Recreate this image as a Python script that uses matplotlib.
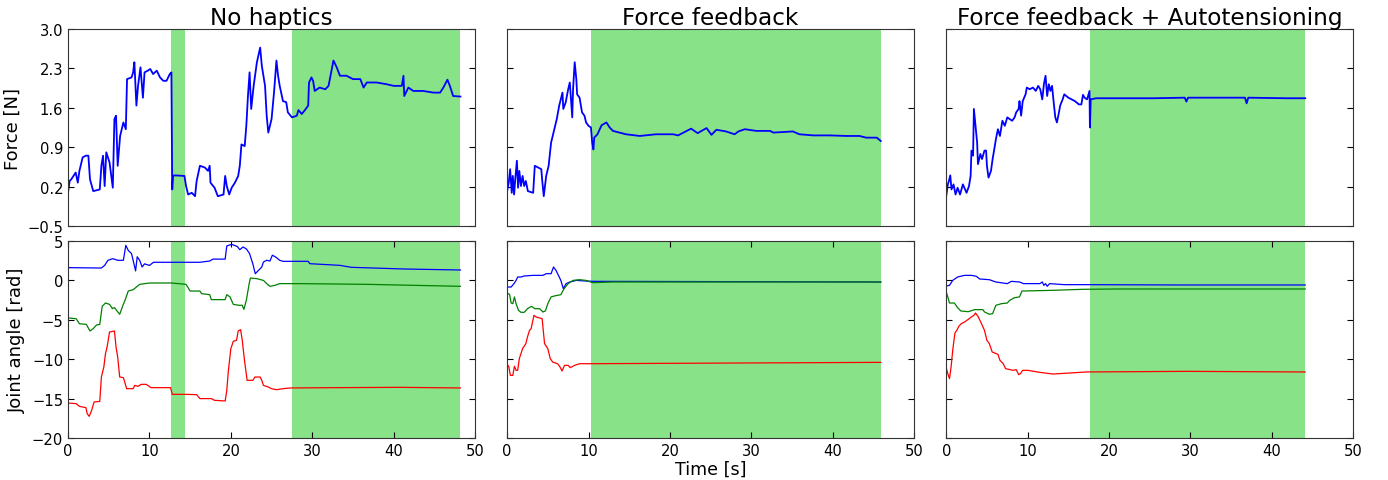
import matplotlib.pyplot as plt
import numpy as np

titles = ["No haptics", "Force feedback", "Force feedback + Autotensioning"]

# green shaded intervals [s] per condition
spans = [
    [(12.6, 14.4), (27.5, 48.2)],
    [(10.3, 45.9)],
    [(17.6, 44.1)],
]

# ---- force traces (t [s], F [N]) ----
force_nh = [
    (0, 0.09), (0.2, 0.30), (0.4, 0.33), (0.94, 0.45), (1.2, 0.27), (1.4, 0.48), (1.8, 0.72),
    (2.2, 0.75), (2.5, 0.75), (2.7, 0.33), (3.1, 0.12), (3.9, 0.15), (4.1, 0.57), (4.3, 0.75),
    (4.5, 0.21), (4.7, 0.81), (5.1, 0.63), (5.5, 0.18), (5.7, 1.40), (5.9, 1.46), (6.1, 0.57),
    (6.4, 1.10), (6.8, 1.34), (7.1, 1.22), (7.25, 2.11), (7.8, 2.14), (8.0, 2.23), (8.15, 2.41),
    (8.4, 1.64), (8.6, 1.99), (8.9, 2.32), (9.2, 1.78), (9.4, 2.23), (9.8, 2.26), (10.1, 2.29),
    (10.45, 2.20), (10.9, 2.26), (11.3, 2.14), (11.7, 2.08), (12.1, 2.08), (12.5, 2.20),
    (12.7, 2.23), (12.8, 0.15), (12.9, 0.39), (13.1, 0.40), (14.3, 0.39), (14.5, 0.21),
    (14.75, 0.06), (15.2, 0.09), (15.6, 0.03), (15.8, 0.30), (16.2, 0.57), (16.8, 0.54),
    (17.2, 0.48), (17.4, 0.57), (17.5, 0.27), (18.0, 0.18), (18.4, 0.03), (19.1, 0.06),
    (19.3, 0.39), (19.5, 0.21), (19.8, 0.06), (20.1, 0.18), (20.5, 0.27), (20.9, 0.39),
    (21.1, 0.57), (21.3, 0.95), (21.7, 0.92), (21.9, 1.28), (22.1, 1.81), (22.3, 2.23),
    (22.5, 1.58), (22.8, 1.99), (23.2, 2.41), (23.6, 2.67), (23.8, 2.35), (24.0, 2.17),
    (24.2, 1.99), (24.4, 1.46), (24.6, 1.16), (25.0, 1.40), (25.3, 1.87), (25.6, 2.44),
    (25.8, 2.17), (26.0, 1.99), (26.4, 1.72), (26.8, 1.70), (27.0, 1.52), (27.5, 1.43),
    (28.1, 1.46), (28.3, 1.56), (28.7, 1.49), (29.1, 1.56), (29.5, 1.64), (29.6, 2.05),
    (29.9, 2.14), (30.1, 2.08), (30.3, 1.90), (30.9, 1.96), (31.6, 1.93), (32.0, 1.99),
    (32.4, 2.29), (32.6, 2.44), (33.0, 2.32), (33.4, 2.17), (34.2, 2.17), (35.0, 2.11),
    (35.9, 2.11), (36.3, 1.96), (36.7, 2.05), (37.9, 2.05), (39.1, 2.02), (40.0, 1.99),
    (41.0, 1.99), (41.2, 2.17), (41.3, 1.81), (41.8, 1.96), (42.4, 1.90), (43.6, 1.90),
    (44.9, 1.87), (45.7, 1.87), (46.1, 1.96), (46.6, 2.10), (46.9, 1.99), (47.3, 1.81),
    (48.2, 1.80),
]
force_ff = [
    (0, 0.12), (0.2, 0.27), (0.37, 0.51), (0.57, 0.09), (0.7, 0.39), (0.86, 0.06), (1.0, 0.33),
    (1.2, 0.66), (1.35, 0.18), (1.5, 0.48), (1.7, 0.21), (1.9, 0.39), (2.1, 0.21), (2.3, 0.30),
    (2.55, 0.12), (3.2, 0.09), (3.4, 0.57), (3.8, 0.54), (4.2, 0.51), (4.3, 0.33), (4.5, 0.03),
    (4.8, 0.39), (5.1, 0.57), (5.4, 0.98), (5.8, 1.22), (6.1, 1.40), (6.4, 1.64), (6.8, 1.87),
    (6.9, 1.58), (7.2, 1.70), (7.5, 1.93), (7.7, 2.05), (8.0, 1.43), (8.1, 1.93), (8.3, 2.41),
    (8.5, 2.11), (8.6, 1.84), (8.9, 1.78), (9.2, 1.52), (9.5, 1.46), (9.7, 1.34), (10.0, 1.28),
    (10.3, 1.25), (10.45, 0.98), (10.6, 0.86), (10.7, 1.07), (11.1, 1.13), (11.6, 1.29),
    (12.2, 1.34), (12.6, 1.25), (13.0, 1.19), (14.6, 1.13), (16.3, 1.10), (18.3, 1.13),
    (20.4, 1.13), (21.0, 1.11), (21.8, 1.17), (22.6, 1.23), (23.4, 1.15), (24.0, 1.20),
    (24.5, 1.24), (25.1, 1.12), (25.7, 1.21), (26.9, 1.18), (27.95, 1.13), (28.4, 1.18),
    (29.2, 1.22), (30.6, 1.19), (32.3, 1.19), (32.7, 1.16), (35.1, 1.18), (35.9, 1.13),
    (37.6, 1.11), (39.6, 1.11), (41.7, 1.10), (43.3, 1.10), (44.1, 1.07), (45.4, 1.07),
    (45.9, 1.01),
]
force_fa = [
    (0, 0.03), (0.2, 0.24), (0.33, 0.30), (0.5, 0.40), (0.65, 0.15), (0.9, 0.24), (1.15, 0.06),
    (1.4, 0.18), (1.7, 0.06), (2.05, 0.24), (2.5, 0.09), (2.8, 0.21), (3.0, 0.39), (3.1, 0.84),
    (3.3, 0.75), (3.4, 1.58), (3.6, 1.28), (3.8, 0.98), (3.9, 0.60), (4.2, 0.78), (4.4, 0.69),
    (4.7, 0.84), (4.9, 0.84), (5.0, 0.57), (5.2, 0.36), (5.5, 0.48), (5.7, 0.69), (5.9, 0.86),
    (6.1, 1.04), (6.35, 1.22), (6.6, 1.10), (6.9, 1.37), (7.2, 1.28), (7.5, 1.43), (7.8, 1.40),
    (8.1, 1.37), (8.4, 1.43), (8.6, 1.52), (8.9, 1.58), (9.0, 1.72), (9.2, 1.46), (9.4, 1.72),
    (9.75, 1.84), (9.9, 1.96), (10.25, 1.93), (10.65, 1.96), (11.0, 1.90), (11.3, 1.99),
    (11.55, 1.93), (11.8, 1.75), (12.0, 2.02), (12.2, 2.17), (12.4, 1.81), (12.6, 2.02),
    (12.8, 1.90), (13.0, 1.99), (13.2, 1.70), (13.4, 1.43), (13.6, 1.34), (13.85, 1.52),
    (14.0, 1.64), (14.3, 1.75), (14.5, 1.84), (15.0, 1.78), (15.4, 1.75), (15.8, 1.72),
    (16.3, 1.66), (16.6, 1.66), (16.8, 1.83), (17.0, 1.78), (17.3, 1.75), (17.6, 1.90),
    (17.65, 1.25), (17.75, 1.75), (18.4, 1.77), (21.3, 1.77), (25.4, 1.77), (29.3, 1.78),
    (29.5, 1.71), (29.7, 1.78), (33.6, 1.78), (36.7, 1.78), (36.9, 1.68), (37.1, 1.78),
    (41.8, 1.77), (44.1, 1.77),
]

# ---- joint angle traces (t [s], angle [rad]) ----
j1_nh = [
    (0, 1.62), (4.1, 1.57), (4.5, 1.9), (4.9, 2.55), (5.5, 2.76), (6.1, 2.55), (6.8, 2.55),
    (7.1, 4.45), (7.4, 3.8), (7.8, 3.4), (8.1, 2.1), (8.3, 1.2), (8.5, 3.0), (8.8, 2.55),
    (9.1, 1.7), (9.4, 2.1), (10.0, 1.9), (10.5, 2.3), (11.3, 2.3), (16.2, 2.3), (17.4, 2.46),
    (17.8, 2.7), (19.3, 2.7), (19.5, 4.37), (20.1, 4.58), (20.8, 4.3), (21.1, 3.9), (21.5, 4.24),
    (21.9, 4.0), (22.3, 3.4), (22.7, 2.1), (23.0, 0.85), (23.4, 1.28), (23.8, 1.7), (24.0, 2.33),
    (24.4, 2.55), (24.8, 2.46), (25.1, 3.2), (25.6, 2.9), (26.0, 2.55), (26.4, 2.42),
    (29.5, 2.42), (29.7, 2.12), (33.4, 1.91), (34.8, 1.66), (41.2, 1.45), (48.2, 1.32),
]
j2_nh = [
    (0, -4.77), (1.0, -4.86), (1.4, -5.5), (2.25, -5.58), (2.7, -6.42), (3.1, -6.12),
    (3.5, -5.66), (3.9, -5.58), (4.2, -3.29), (4.6, -2.87), (5.1, -3.04), (5.45, -3.58),
    (5.7, -3.46), (6.35, -4.3), (6.7, -3.29), (7.0, -2.53), (7.4, -1.35), (8.0, -1.18),
    (8.4, -0.84), (8.8, -0.5), (10.0, -0.33), (12.7, -0.33), (14.5, -0.5), (15.0, -1.35),
    (16.2, -1.35), (16.4, -1.68), (17.4, -1.81), (17.6, -2.44), (19.3, -2.44), (19.5, -1.81),
    (19.9, -2.1), (20.3, -3.04), (21.0, -3.16), (21.4, -3.16), (21.6, -3.67), (21.9, -2.53),
    (22.25, -0.41), (22.4, 0.3), (23.2, 0.22), (24.0, 0.0), (24.4, -0.41), (24.8, -0.75),
    (25.4, -0.63), (26.0, -0.41), (28.5, -0.41), (36.7, -0.5), (48.2, -0.75),
]
j3_nh = [
    (0, -15.56), (1.0, -15.64), (1.4, -15.98), (2.2, -16.15), (2.35, -16.9), (2.6, -17.25),
    (2.9, -16.5), (3.2, -15.43), (3.9, -15.35), (4.1, -12.26), (4.4, -10.99), (4.6, -9.3),
    (4.8, -8.45), (5.1, -6.55), (5.7, -6.42), (5.9, -8.45), (6.1, -9.72), (6.35, -12.26),
    (6.8, -12.34), (7.0, -13.02), (7.2, -13.74), (8.0, -13.74), (8.2, -13.32), (8.6, -13.44),
    (9.0, -13.19), (9.6, -13.19), (10.2, -13.61), (12.6, -13.61), (12.8, -14.46),
    (14.5, -14.46), (15.8, -14.5), (16.2, -15.0), (17.6, -15.0), (18.0, -15.22),
    (19.3, -15.3), (19.5, -13.95), (19.7, -11.41), (20.0, -8.66), (20.3, -7.73), (20.7, -7.6),
    (20.9, -6.42), (21.2, -6.25), (21.4, -7.6), (21.7, -10.36), (22.0, -12.68), (22.7, -12.68),
    (22.95, -12.26), (23.6, -12.26), (23.8, -12.68), (24.0, -13.32), (24.6, -13.53),
    (25.0, -13.74), (25.6, -13.87), (26.4, -13.74), (27.3, -13.65), (32.6, -13.61),
    (40.8, -13.57), (48.2, -13.65),
]
j1_ff = [
    (0, -0.84), (0.5, -0.84), (0.9, -0.33), (1.1, 0.0), (1.3, 0.43), (1.7, 0.43), (2.1, 0.56),
    (3.2, 0.64), (4.4, 0.64), (4.8, 0.85), (5.4, 0.85), (5.7, 1.7), (6.0, 1.28), (6.4, 0.43),
    (6.6, 0.0), (6.9, -1.05), (7.25, -0.41), (7.7, -0.2), (8.5, 0.0), (9.7, -0.08),
    (10.7, -0.12), (45.9, -0.2),
]
j2_ff = [
    (0, -1.6), (0.3, -1.77), (0.5, -2.87), (0.7, -2.95), (0.9, -2.1), (1.1, -2.95), (1.4, -3.8),
    (1.7, -4.05), (2.1, -4.05), (2.5, -3.59), (3.0, -3.29), (3.4, -3.59), (4.0, -3.59),
    (4.4, -4.01), (4.7, -3.88), (5.0, -2.95), (5.4, -2.1), (5.8, -1.98), (6.6, -1.81),
    (7.0, -1.05), (7.5, -0.41), (8.1, 0.0), (8.9, 0.09), (9.7, 0.0), (10.5, -0.29),
    (13.0, -0.2), (45.9, -0.2),
]
j3_ff = [
    (0, -10.69), (0.2, -10.9), (0.4, -12.05), (0.7, -12.05), (0.9, -10.9), (1.1, -11.41),
    (1.3, -11.41), (1.5, -9.93), (1.9, -8.66), (2.3, -8.03), (2.5, -7.18), (2.75, -6.34),
    (2.95, -6.12), (3.3, -4.43), (3.55, -4.64), (4.3, -4.86), (4.6, -8.03), (5.0, -8.66),
    (5.3, -9.93), (5.6, -10.36), (6.2, -10.57), (6.5, -10.99), (6.75, -11.5), (7.05, -10.78),
    (7.5, -10.78), (7.75, -11.07), (8.3, -10.78), (8.9, -10.57), (10.3, -10.57),
    (45.9, -10.4),
]
j1_fa = [
    (0, -0.71), (0.4, -0.63), (0.8, 0.0), (1.4, 0.43), (2.25, 0.64), (3.1, 0.64), (3.7, 0.52),
    (4.1, 0.18), (5.3, 0.09), (6.1, -0.2), (7.5, -0.41), (8.0, -0.12), (9.0, -0.2),
    (9.5, -0.41), (11.5, -0.41), (11.8, -0.2), (12.0, -0.63), (12.2, -0.41), (12.4, -0.75),
    (12.7, -0.41), (14.5, -0.54), (17.2, -0.54), (28.7, -0.58), (44.1, -0.58),
]
j2_fa = [
    (0, -1.47), (0.2, -2.1), (0.4, -2.87), (1.0, -2.87), (1.4, -3.46), (1.8, -3.88),
    (2.7, -3.97), (3.5, -3.71), (4.5, -3.71), (4.7, -4.0), (5.3, -4.3), (5.7, -4.22),
    (6.1, -3.16), (6.8, -2.95), (7.5, -2.87), (7.8, -2.53), (8.4, -2.19), (9.0, -2.1),
    (9.3, -1.35), (13.1, -1.26), (16.8, -1.13), (21.3, -1.09), (44.1, -1.09),
]
j3_fa = [
    (0, -11.07), (0.2, -11.84), (0.4, -12.47), (0.6, -10.99), (0.8, -8.87), (1.07, -6.68),
    (1.3, -6.34), (1.55, -5.83), (1.85, -5.49), (2.25, -5.28), (2.66, -4.98), (3.2, -4.56),
    (3.4, -4.43), (3.6, -4.14), (3.9, -4.56), (4.3, -5.41), (4.7, -6.34), (5.0, -7.6),
    (5.3, -8.03), (5.65, -9.09), (6.35, -9.38), (6.6, -10.14), (7.0, -10.57), (7.3, -11.2),
    (8.2, -11.41), (8.6, -11.33), (8.9, -11.96), (9.1, -11.84), (9.4, -11.41), (10.0, -11.41),
    (11.5, -11.67), (13.1, -11.88), (15.2, -11.75), (17.2, -11.62), (29.5, -11.54),
    (44.1, -11.62),
]

forces = [force_nh, force_ff, force_fa]
joints = [(j1_nh, j2_nh, j3_nh), (j1_ff, j2_ff, j3_ff), (j1_fa, j2_fa, j3_fa)]
joint_colors = ["blue", "green", "red"]

force_ticks = [-0.5, 0.2, 0.9, 1.6, 2.3, 3.0]
angle_ticks = [-20, -15, -10, -5, 0, 5]
time_ticks = [0, 10, 20, 30, 40, 50]

shade = "#88e288"

fig, axes = plt.subplots(2, 3, figsize=(13.88, 4.81), dpi=100)
fig.subplots_adjust(left=0.049, right=0.975, top=0.9376, bottom=0.0873,
                    wspace=0.0786, hspace=0.076)

for i in range(3):
    top = axes[0, i]
    bot = axes[1, i]
    for ax in (top, bot):
        for a, b in spans[i]:
            ax.axvspan(a, b, color=shade, lw=0, zorder=0)
        ax.set_xlim(0, 50)
        ax.tick_params(direction="in", top=True, right=True, labelsize=10.6,
                       length=4, color="black")
        for s in ax.spines.values():
            s.set_color("#333333")

    t, f = np.array(forces[i]).T
    top.plot(t, f, color="blue", lw=1.3)
    top.set_ylim(-0.5, 3.0)
    top.set_yticks(force_ticks)
    top.set_xticks([])
    top.set_title(titles[i], fontsize=16.7, pad=2)

    for series, c in zip(joints[i], joint_colors):
        tj, aj = np.array(series).T
        bot.plot(tj, aj, color=c, lw=0.9)
    bot.set_ylim(-20, 5)
    bot.set_yticks(angle_ticks)
    bot.set_xticks(time_ticks)

    if i > 0:
        top.set_yticklabels([])
        bot.set_yticklabels([])

axes[0, 0].set_yticklabels(["\u22120.5", "0.2", "0.9", "1.6", "2.3", "3.0"])
axes[0, 0].set_ylabel("Force [N]", fontsize=13)
axes[1, 0].set_ylabel("Joint angle [rad]", fontsize=13)
axes[1, 1].set_xlabel("Time [s]", fontsize=12.6, labelpad=1)

fig.savefig("out.png", dpi=100)
